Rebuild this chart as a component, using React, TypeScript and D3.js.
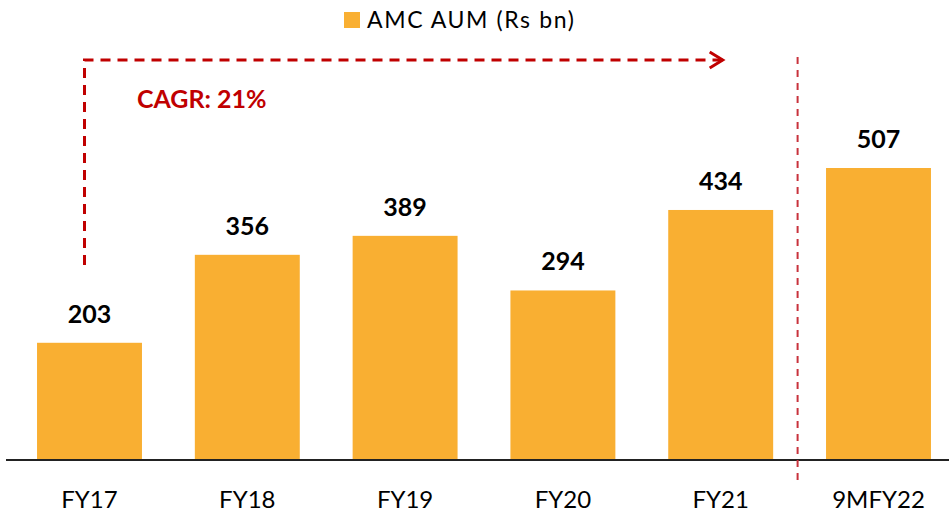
import React, { useRef, useEffect } from 'react';
import * as d3 from 'd3';

// chart data
const categories = ['FY17', 'FY18', 'FY19', 'FY20', 'FY21', '9MFY22'];
const aumValues = [203, 356, 389, 294, 434, 507];
const legendLabel = 'AMC AUM (Rs bn)';
const cagrLabel = 'CAGR: 21%';

const W = 949;
const H = 515;
const BAR = '#F9AF32';
const RED = '#C00000';
const FONT = 'Lato, Calibri, sans-serif';

const App = () => {
  const ref = useRef<SVGSVGElement>(null);

  useEffect(() => {
    const svg = d3.select(ref.current);
    svg.selectAll('*').remove();

    const baseY = 459.5;
    const x = d3.scaleBand()
      .domain(categories)
      .range([10.6, 957.4])
      .paddingInner(0.335)
      .paddingOuter(0.1675);
    const y = d3.scaleLinear().domain([0, 507]).range([baseY, 168]);

    const data = categories.map((c, i) => ({ c, v: aumValues[i] }));

    // bars
    svg.selectAll('.bar')
      .data(data)
      .enter()
      .append('rect')
      .attr('class', 'bar')
      .attr('x', d => x(d.c)!)
      .attr('y', d => y(d.v))
      .attr('width', x.bandwidth())
      .attr('height', d => baseY - y(d.v))
      .attr('fill', BAR);

    // value labels
    svg.selectAll('.val')
      .data(data)
      .enter()
      .append('text')
      .attr('x', d => x(d.c)! + x.bandwidth() / 2)
      .attr('y', d => y(d.v) - 20)
      .attr('text-anchor', 'middle')
      .attr('font-family', FONT)
      .attr('font-weight', 'bold')
      .attr('font-size', 25)
      .attr('fill', '#000')
      .text(d => d.v);

    // baseline
    svg.append('line')
      .attr('x1', 6).attr('x2', W)
      .attr('y1', baseY + 0.5).attr('y2', baseY + 0.5)
      .attr('stroke', '#222').attr('stroke-width', 2);

    // category labels
    svg.selectAll('.cat')
      .data(categories)
      .enter()
      .append('text')
      .attr('x', d => x(d)! + x.bandwidth() / 2)
      .attr('y', 508)
      .attr('text-anchor', 'middle')
      .attr('font-family', FONT)
      .attr('font-size', 24)
      .attr('fill', '#000')
      .text(d => d);

    // separator before the partial year
    const sepX = (x('FY21')! + x.bandwidth() + x('9MFY22')!) / 2 - 2;
    svg.append('line')
      .attr('x1', sepX).attr('x2', sepX)
      .attr('y1', 57).attr('y2', 482)
      .attr('stroke', '#C8323C').attr('stroke-width', 2)
      .attr('stroke-dasharray', '7,6');

    // CAGR arrow
    const x0 = x('FY17')! + x.bandwidth() / 2 - 5;
    const x1 = x('FY21')! + x.bandwidth() / 2 + 2;
    const ay = 60;
    svg.append('path')
      .attr('d', `M${x0},265 L${x0},${ay} L${x1},${ay}`)
      .attr('fill', 'none')
      .attr('stroke', RED).attr('stroke-width', 3)
      .attr('stroke-dasharray', '10,7');
    svg.append('path')
      .attr('d', `M${x1 - 13},${ay - 8} L${x1},${ay} L${x1 - 13},${ay + 8}`)
      .attr('fill', 'none')
      .attr('stroke', RED).attr('stroke-width', 3);

    svg.append('text')
      .attr('x', 137).attr('y', 108)
      .attr('font-family', FONT)
      .attr('font-weight', 'bold')
      .attr('font-size', 25)
      .attr('fill', RED)
      .text(cagrLabel);

    // legend
    svg.append('rect')
      .attr('x', 344).attr('y', 12).attr('width', 16).attr('height', 16)
      .attr('fill', BAR);
    svg.append('text')
      .attr('x', 367).attr('y', 28)
      .attr('font-family', FONT)
      .attr('font-size', 23)
      .attr('letter-spacing', 1.6)
      .attr('fill', '#000')
      .text(legendLabel);
  }, []);

  return (
    <svg ref={ref} width={W} height={H}
      style={{ position: 'absolute', left: 0, top: 0, background: '#fff' }} />
  );
};

export default App;
